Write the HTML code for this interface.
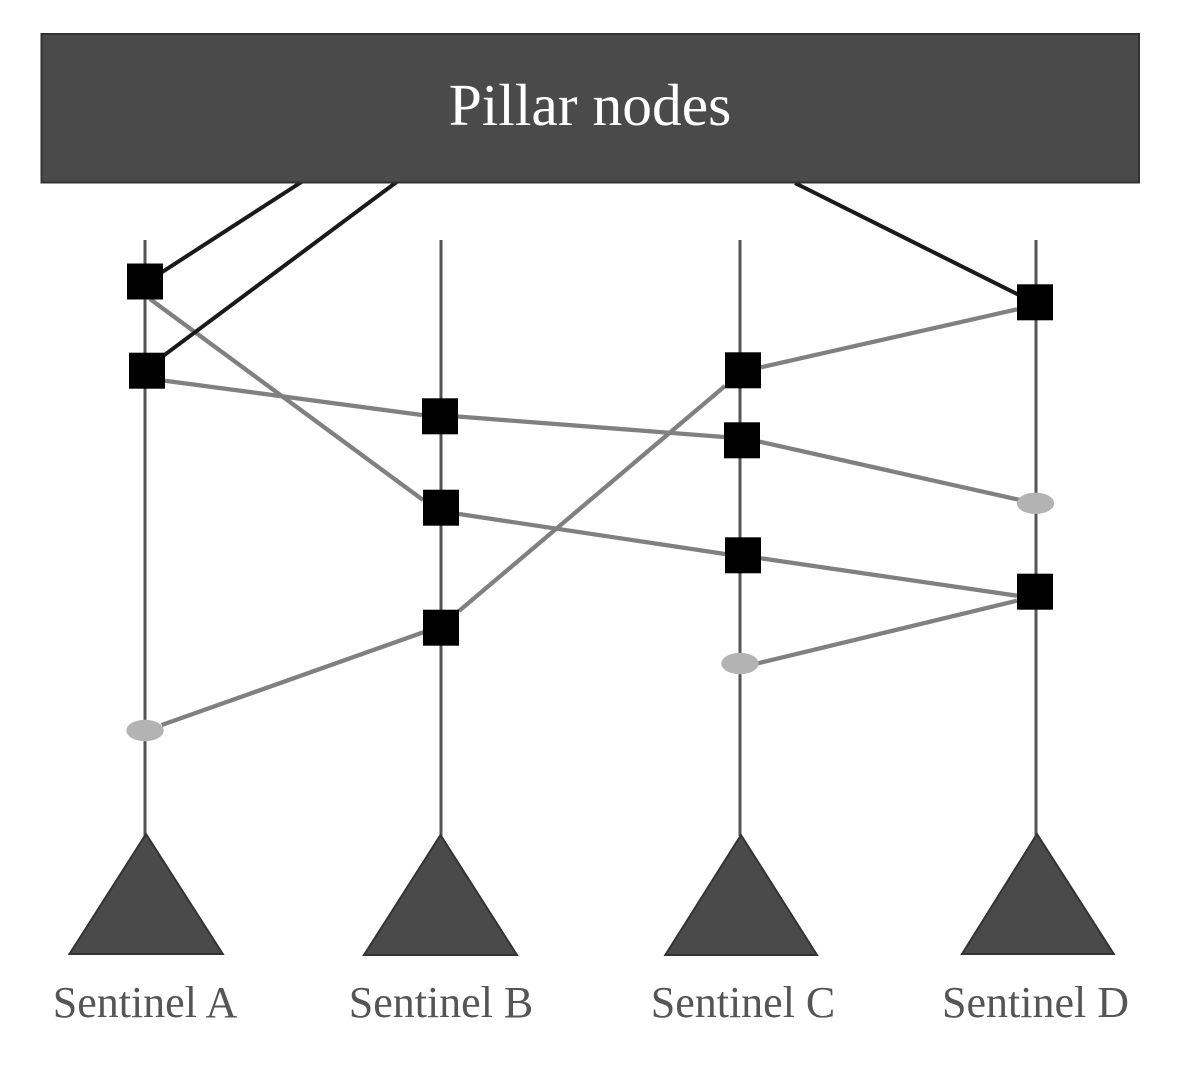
<!DOCTYPE html>
<html>
<head>
<meta charset="utf-8">
<style>
html,body{margin:0;padding:0;background:#fff;}
svg{display:block;}
text{font-family:"Liberation Serif",serif;}
</style>
</head>
<body>
<svg width="1182" height="1068" viewBox="0 0 1182 1068" xmlns="http://www.w3.org/2000/svg">
<g stroke="#555" stroke-width="3" fill="none">
<line x1="145" y1="240" x2="145" y2="836"/>
<line x1="441" y1="240" x2="441" y2="836"/>
<line x1="740" y1="240" x2="740" y2="836"/>
<line x1="1036" y1="240" x2="1036" y2="836"/>
</g>
<g stroke="#808080" stroke-width="4.3" fill="none">
<line x1="150" y1="299" x2="423" y2="500"/>
<line x1="165" y1="380.7" x2="422" y2="415"/>
<line x1="458" y1="416.5" x2="724" y2="437"/>
<line x1="759.7" y1="441.7" x2="1020" y2="500"/>
<line x1="459" y1="514" x2="725" y2="554"/>
<line x1="761" y1="558.3" x2="1017" y2="595.7"/>
<line x1="161.7" y1="725" x2="423.3" y2="632.3"/>
<line x1="459" y1="611" x2="725" y2="386"/>
<line x1="761" y1="367.3" x2="1017" y2="309.3"/>
<line x1="758" y1="663.3" x2="1017" y2="600.7"/>
</g>
<g stroke="#1a1a1a" stroke-width="4" fill="none">
<line x1="303" y1="181" x2="160" y2="273.4"/>
<line x1="398" y1="181" x2="160" y2="358.3"/>
<line x1="795" y1="183" x2="1019" y2="295"/>
</g>
<rect x="41.5" y="34" width="1097.5" height="148.5" fill="#4a4a4a" stroke="#333" stroke-width="2"/>
<text x="590" y="125" font-size="59.5" fill="#fff" text-anchor="middle">Pillar nodes</text>
<g fill="#000">
<rect x="127" y="263.5" width="36" height="36"/>
<rect x="129" y="352.7" width="36" height="36"/>
<rect x="422" y="398.3" width="36" height="36"/>
<rect x="423" y="489.7" width="36" height="36"/>
<rect x="423" y="609.7" width="36" height="36"/>
<rect x="725" y="352.3" width="36" height="36"/>
<rect x="724" y="422.3" width="36" height="36"/>
<rect x="725" y="537.3" width="36" height="36"/>
<rect x="1017" y="284.3" width="36" height="36"/>
<rect x="1017" y="573.7" width="36" height="36"/>
</g>
<g fill="#b3b3b3">
<ellipse cx="145" cy="730.5" rx="18.7" ry="10.7"/>
<ellipse cx="740" cy="663.5" rx="18.7" ry="10.7"/>
<ellipse cx="1035.5" cy="503.3" rx="18.7" ry="10.7"/>
</g>
<g fill="#4a4a4a" stroke="#333" stroke-width="2">
<polygon points="146,834 222.8,954 69.5,954"/>
<polygon points="440.5,835 517,955 364,955"/>
<polygon points="741,835 817,955 665.3,955"/>
<polygon points="1037,834 1113.8,954 962,954"/>
</g>
<g font-size="44" fill="#555" text-anchor="middle">
<text x="145" y="1017">Sentinel A</text>
<text x="441" y="1017">Sentinel B</text>
<text x="743" y="1017">Sentinel C</text>
<text x="1035.5" y="1017">Sentinel D</text>
</g>
</svg>
</body>
</html>
